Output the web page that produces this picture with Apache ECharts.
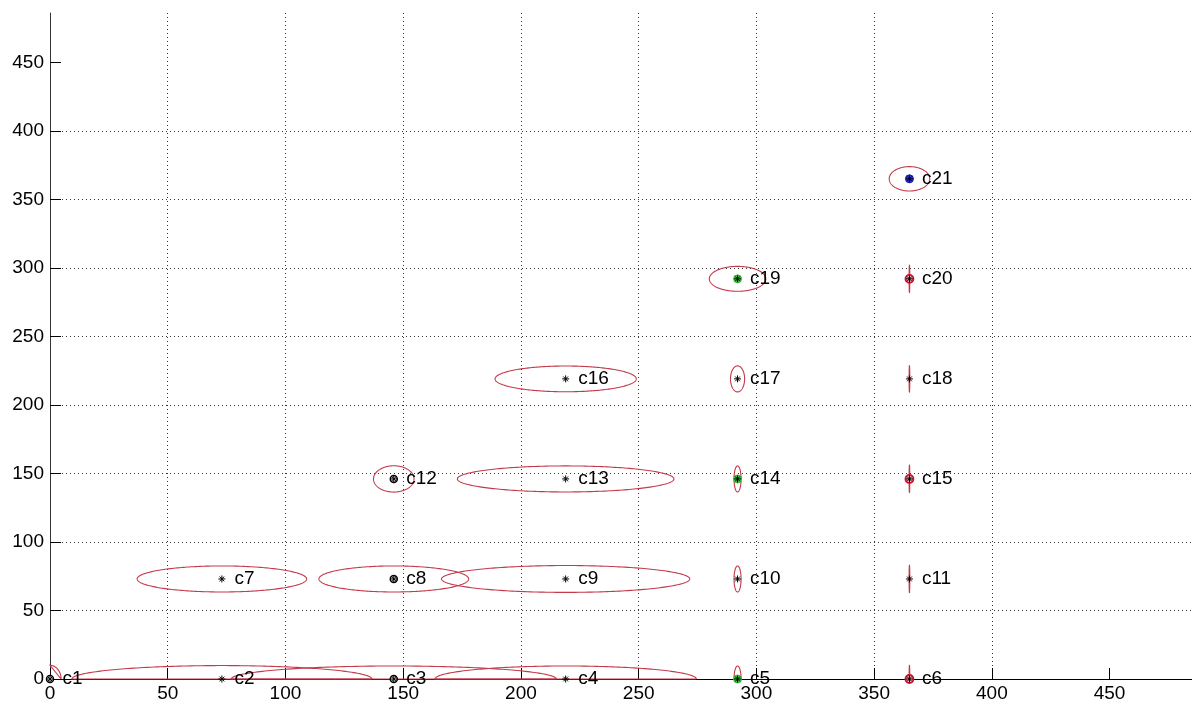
<!DOCTYPE html>
<html><head><meta charset="utf-8">
<script src="https://cdn.jsdelivr.net/npm/echarts@6/dist/echarts.min.js"></script>
<style>html,body{margin:0;padding:0;background:#fff}#c{width:1192px;height:709px}</style>
</head><body><div id="c"></div>
<script>
const names = ['c1','c2','c3','c4','c5','c6','c7','c8','c9','c10','c11','c12','c13','c14','c15','c16','c17','c18','c19','c20','c21'];
const xs = [0,73,146,219,292,365, 73,146,219,292,365, 146,219,292,365, 219,292,365, 292,365, 365];
const ys = [0,0,0,0,0,0, 73,73,73,73,73, 146,146,146,146, 219,219,219, 292,292, 365];
const ellipseRx = [4.7,63.7,69,55.5,1.5,0.15, 36,31.8,52.7,1.5,0.15, 8.6,46,1.5,0.15, 30,3,0.15, 12,0.15, 8.6];
const ellipseRy = [10,9.8,9.5,9.5,9.5,10, 9.5,9.5,9.8,9.5,10, 9.6,9.5,9.5,10, 9.4,9.5,9.7, 9.1,10, 8.9];
const ringKind = ['k','','k','','g','r', '','k','','','', 'k','','g','r', '','','', 'g','r', 'b'];
const xTicks = [0,50,100,150,200,250,300,350,400,450];
const yTicks = [0,50,100,150,200,250,300,350,400,450];

const FONT = '"Liberation Sans", Arial, sans-serif';
const chart = echarts.init(document.getElementById('c'));

const ellipseData = xs.map((x, i) => [x, ys[i], ellipseRx[i], ellipseRy[i]]);
function ringData(kind) {
  const out = [];
  xs.forEach((x, i) => { if (ringKind[i] === kind) out.push([x, ys[i]]); });
  return out;
}
const pointData = xs.map((x, i) => [x, ys[i]]);

const ringStyles = {
  k: {size: 7, color: '#ffffff', borderColor: '#000', borderWidth: 1.5},
  g: {size: 8, color: '#3fcf3f', borderColor: '#2fae2f', borderWidth: 0.8},
  r: {size: 8, color: '#f3c0c8', borderColor: '#d0102e', borderWidth: 1.8},
  b: {size: 8, color: '#3535e8', borderColor: '#1a1ab0', borderWidth: 1}
};
const ringSeries = Object.keys(ringStyles).map(k => ({
  type: 'scatter',
  data: ringData(k),
  symbol: 'circle',
  symbolSize: ringStyles[k].size,
  itemStyle: {color: ringStyles[k].color, borderColor: ringStyles[k].borderColor, borderWidth: ringStyles[k].borderWidth, opacity: 1},
  silent: true,
  z: 3
}));

const axisCommon = {
  type: 'value',
  interval: 50,
  axisLine: {show: true, onZero: false, lineStyle: {color: '#000', width: 1}},
  axisTick: {show: true, inside: true, length: 11, lineStyle: {color: '#000', width: 1}},
  splitLine: {show: true, showMinLine: false, showMaxLine: false, lineStyle: {type: [1, 3], color: '#333', width: 1}},
};

chart.setOption({
  animation: false,
  backgroundColor: '#fff',
  grid: {left: 50, right: 0, top: 13, bottom: 30, containLabel: false, outerBoundsMode: 'none'},
  xAxis: Object.assign({}, axisCommon, {
    min: 0, max: 485,
    axisTick: Object.assign({}, axisCommon.axisTick, {customValues: xTicks}),
    axisLabel: {customValues: xTicks, fontSize: 19, fontFamily: FONT, color: '#000', margin: 5}
  }),
  yAxis: Object.assign({}, axisCommon, {
    min: 0, max: 486,
    axisLine: {show: true, onZero: false, lineStyle: {color: '#333', width: 1}},
    axisTick: Object.assign({}, axisCommon.axisTick, {customValues: yTicks}),
    axisLabel: {customValues: yTicks, fontSize: 19, fontFamily: FONT, color: '#000', margin: 6}
  }),
  series: [
    {
      type: 'custom',
      data: ellipseData,
      encode: {x: 0, y: 1},
      silent: true,
      z: 2,
      renderItem: function (params, api) {
        const cx = api.value(0), cy = api.value(1), rx = api.value(2), ry = api.value(3);
        const N = 240;
        const pts = [];
        for (let i = 0; i <= N; i++) {
          const t = 2 * Math.PI * i / N;
          const x = cx + rx * Math.cos(t);
          const y = cy + ry * Math.sin(t);
          if (x >= -1e-9 && y >= -1e-9) pts.push(api.coord([x, y]));
        }
        return {
          type: 'polyline',
          shape: {points: pts},
          style: {stroke: '#c43a4a', lineWidth: 1.1, fill: null}
        };
      }
    }
  ].concat(ringSeries).concat([
    {
      type: 'scatter',
      data: pointData,
      symbol: 'path://M5 0V10M0 5H10M1.6 1.6L8.4 8.4M1.6 8.4L8.4 1.6',
      symbolSize: 7,
      itemStyle: {color: 'rgba(0,0,0,0)', borderColor: '#000', borderWidth: 1, opacity: 1},
      silent: true,
      z: 4,
      label: {
        show: true,
        position: 'right',
        distance: 8.5,
        formatter: p => names[p.dataIndex],
        fontSize: 19,
        fontFamily: FONT,
        color: '#000'
      }
    }
  ])
});
</script></body></html>
